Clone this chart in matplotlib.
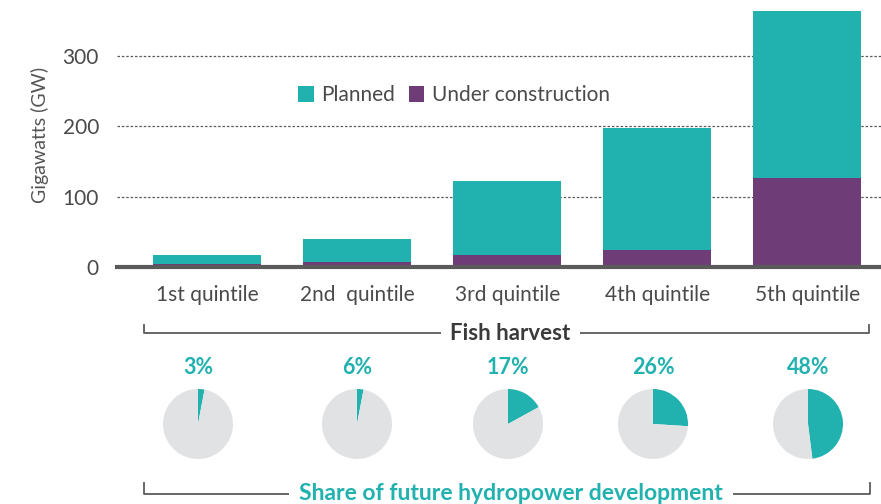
import matplotlib
matplotlib.use("Agg")
import matplotlib.pyplot as plt
from matplotlib.lines import Line2D

plt.rcParams['font.family'] = ['Lato', 'DejaVu Sans']

categories = ["1st quintile", "2nd  quintile", "3rd quintile", "4th quintile", "5th quintile"]
under_construction = [4, 7, 17, 24, 127]
planned = [13, 33, 105, 174, 236]
share_labels = ["3%", "6%", "17%", "26%", "48%"]
pie_values = [3, 3, 17, 26, 48]
yticks = [0, 100, 200, 300]

TEAL = "#21B1AF"
PURPLE = "#6E3D78"
GRAY_PIE = "#E1E2E4"
TXT = "#4a4a4a"
LINE = "#5a5a5a"

W, H = 881, 504
fig = plt.figure(figsize=(W / 100, H / 100), dpi=100)

def fx(px):
    return px / W

def fy(py):
    return 1 - py / H

# Bar axes
ax_left, ax_right = 117, 881
ax_bottom, ax_top = 267, 3
ax = fig.add_axes([fx(ax_left), fy(ax_bottom), fx(ax_right - ax_left), (ax_bottom - ax_top) / H])
x = list(range(len(categories)))
ax.bar(x, under_construction, width=0.72, color=PURPLE, zorder=3, label="Under construction")
ax.bar(x, planned, bottom=under_construction, width=0.72, color=TEAL, zorder=3, label="Planned")
ax.set_xlim(-0.6, 4.49)
ax.set_ylim(0, 375)
ax.set_yticks(yticks)
ax.set_yticklabels([str(v) for v in yticks], fontsize=15, color=TXT)
ax.tick_params(axis='y', length=0, pad=13)
ax.set_xticks(x)
ax.set_xticklabels(categories, fontsize=15, color=TXT)
ax.tick_params(axis='x', length=0, pad=13)
for s in ["top", "right", "left"]:
    ax.spines[s].set_visible(False)
ax.spines["bottom"].set_color(LINE)
ax.spines["bottom"].set_linewidth(3)
ax.spines["bottom"].set_zorder(4)
ax.grid(axis='y', linestyle=(0, (2, 1.5)), color=LINE, linewidth=0.9, zorder=0)
ax.set_axisbelow(True)
ax.set_ylabel("Gigawatts (GW)", fontsize=14, color="#555555", labelpad=10)

handles, labels = ax.get_legend_handles_labels()
leg = ax.legend(handles[::-1], labels[::-1], loc="upper left",
                bbox_to_anchor=((290 - ax_left) / (ax_right - ax_left), (ax_bottom - 77) / (ax_bottom - ax_top)),
                ncol=2, frameon=False, fontsize=15, handlelength=0.75, handleheight=0.75,
                handletextpad=0.35, columnspacing=0.65, borderaxespad=0)
for t in leg.get_texts():
    t.set_color(TXT)

def bracket(y, x0, x1, tick, label, color, weight, size):
    fig.add_artist(Line2D([fx(x0), fx(x0), fx(x1), fx(x1)], [fy(y - tick), fy(y), fy(y), fy(y - tick)],
                          color=LINE, linewidth=1.3, transform=fig.transFigure))
    fig.text(fx((x0 + x1) / 2 + 4), fy(y), label, ha='center', va='center', color=color,
             fontsize=size, fontweight=weight,
             bbox=dict(facecolor='white', edgecolor='none', pad=7))

bracket(333, 144, 869, 8, "Fish harvest", "#3a3a3a", "bold", 16)

# Pies
pie_cx = [198, 357, 508, 653, 808]
pie_cy = 424
r = 35
for cx, v, lab in zip(pie_cx, pie_values, share_labels):
    pax = fig.add_axes([fx(cx - r), fy(pie_cy + r), fx(2 * r), 2 * r / H])
    pax.pie([v, 100 - v], colors=[TEAL, GRAY_PIE], startangle=90, counterclock=False,
            wedgeprops=dict(linewidth=0))
    pax.set_xlim(-1, 1)
    pax.set_ylim(-1, 1)
    pax.set_aspect('equal')
    pax.axis('off')
    fig.text(fx(cx), fy(367), lab, ha='center', va='center', color=TEAL,
             fontsize=15.5, fontweight='bold')

bracket(494, 144, 870, 11, "Share of future hydropower development", TEAL, "bold", 16.5)

fig.savefig("out.png", dpi=100)
